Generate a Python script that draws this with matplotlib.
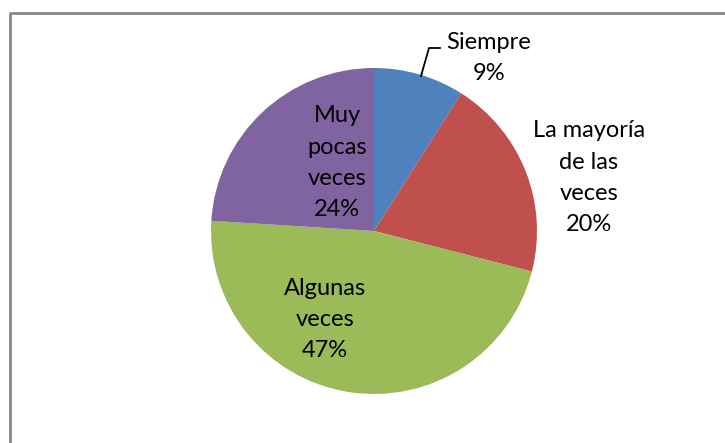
import matplotlib
matplotlib.use('Agg')
import matplotlib.pyplot as plt

labels = ['Siempre', 'La mayoría\nde las\nveces', 'Algunas\nveces', 'Muy\npocas\nveces']
values = [9, 20, 47, 24]
colors = ['#4F81BD', '#C0504D', '#9BBB59', '#8064A2']
# last-line baseline of each label in pixel coords (x centre, y from top)
label_pos = [(489, 80), (589, 231), (325, 357), (337, 216)]

W, H = 725, 443
plt.rcParams['font.family'] = ['Lato', 'DejaVu Sans']
fig = plt.figure(figsize=(W / 100, H / 100), dpi=100)
ax = fig.add_axes([0, 0, 1, 1])

# chart frame (top and left only visible)
ax.plot([10, 10, W + 5], [-5, H - 12.5, H - 12.5], color='#878787', lw=2, solid_capstyle='butt')

cx, cy, r = 374, H - 231, 163
ax.pie(values, colors=colors, startangle=90, counterclock=False,
       center=(cx, cy), radius=r, wedgeprops=dict(linewidth=0))
ax.set_xlim(0, W)
ax.set_ylim(0, H)
ax.set_aspect('equal')
ax.axis('off')

total = sum(values)
for lab, v, (x, y) in zip(labels, values, label_pos):
    pct = round(100 * v / total)
    ax.text(x, H - y, lab + '\n' + str(pct) + '%', ha='center', va='baseline',
            fontsize=17, linespacing=1.6, color='black')

# leader line for Siempre
ax.plot([421, 429, 440], [H - 76, H - 48, H - 48], color='black', lw=1.3)

plt.savefig('out.png', dpi=100)
